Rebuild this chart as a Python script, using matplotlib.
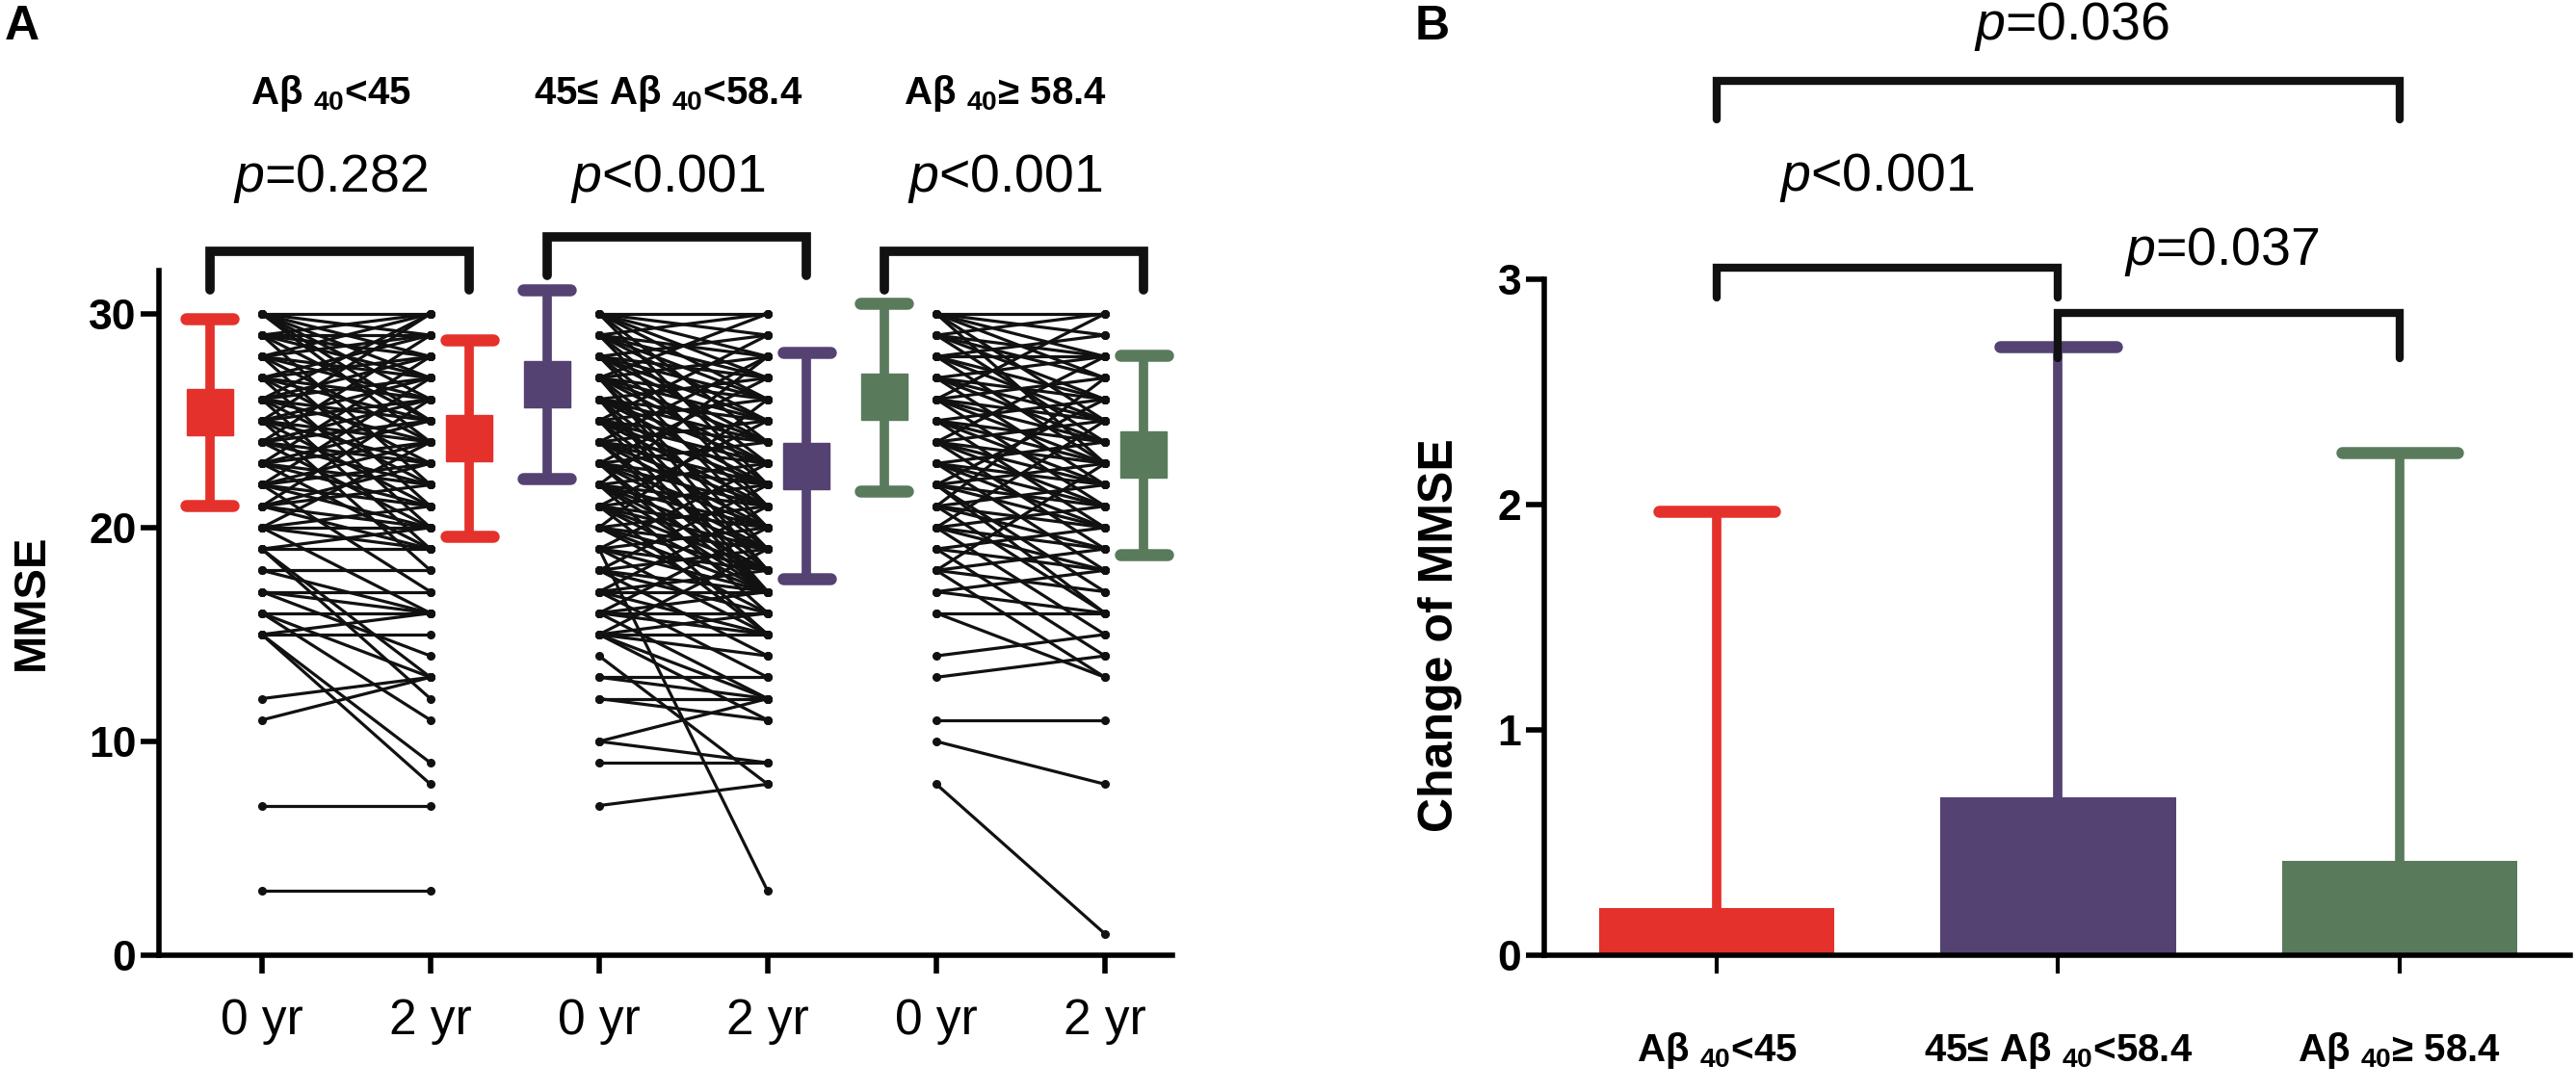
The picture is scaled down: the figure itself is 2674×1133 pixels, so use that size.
import matplotlib
matplotlib.use('Agg')
import matplotlib.pyplot as plt

plt.rcParams['font.family'] = ['Liberation Sans', 'DejaVu Sans']
plt.rcParams['mathtext.fontset'] = 'custom'
plt.rcParams['mathtext.rm'] = 'Liberation Sans'
plt.rcParams['mathtext.it'] = 'Liberation Sans:italic'
plt.rcParams['mathtext.bf'] = 'Liberation Sans:bold'

# group names
group_labels = ['A\u03b2 $_{\\mathbf{40}}$<45',
                '45\u2264 A\u03b2 $_{\\mathbf{40}}$<58.4',
                'A\u03b2 $_{\\mathbf{40}}$\u2265 58.4']
colors = ['#e4312b', '#544273', '#5a7a5c']
time_labels = ['0 yr', '2 yr', '0 yr', '2 yr', '0 yr', '2 yr']

# individual MMSE, 0 yr -> 2 yr
g1_pre = [30, 30, 30, 30, 30, 30, 30, 29, 29, 29, 29, 29, 29, 28, 28, 28, 28, 28, 28,
          27, 27, 27, 27, 27, 27, 26, 26, 26, 26, 26, 26, 25, 25, 25, 25, 25, 25,
          24, 24, 24, 24, 24, 23, 23, 23, 23, 23, 22, 22, 22, 22, 22, 21, 21, 21, 21,
          20, 20, 20, 20, 19, 19, 19, 19, 18, 18, 17, 17, 17, 16, 16, 16,
          15, 15, 15, 15, 12, 11, 7, 3,
          26, 25, 24, 23, 22, 21, 20]
g1_post = [30, 29, 27, 28, 26, 25, 24, 30, 28, 27, 29, 25, 22, 30, 29, 27, 26, 24, 21,
           29, 28, 26, 25, 23, 20, 28, 27, 25, 24, 22, 19, 27, 26, 24, 23, 21, 18,
           26, 25, 23, 22, 20, 25, 24, 22, 21, 19, 24, 23, 21, 20, 17, 23, 22, 20, 19,
           21, 20, 19, 16, 20, 19, 13, 12, 18, 16, 17, 16, 14, 16, 13, 11,
           15, 16, 9, 8, 13, 13, 7, 3,
           30, 30, 29, 28, 27, 26, 24]

g2_pre = [30, 30, 30, 30, 30, 30, 30, 29, 29, 29, 29, 29, 29, 29,
          28, 28, 28, 28, 28, 28, 28, 27, 27, 27, 27, 27, 27, 27, 27,
          26, 26, 26, 26, 26, 26, 26, 26, 25, 25, 25, 25, 25, 25, 25,
          24, 24, 24, 24, 24, 24, 24, 23, 23, 23, 23, 23, 23, 23,
          22, 22, 22, 22, 22, 22, 22, 21, 21, 21, 21, 21, 21,
          20, 20, 20, 20, 20, 19, 19, 19, 19, 19, 18, 18, 18, 18,
          17, 17, 17, 17, 16, 16, 16, 16, 15, 15, 15, 15, 15,
          14, 13, 13, 12, 12, 10, 10, 9, 7,
          27, 25, 24, 23, 22, 21, 20, 19, 18, 17, 16, 15]
g2_post = [30, 29, 28, 27, 26, 24, 22, 30, 28, 27, 26, 25, 23, 21,
           29, 27, 26, 25, 24, 22, 20, 28, 26, 25, 24, 23, 21, 19, 18,
           27, 25, 24, 23, 22, 20, 18, 17, 26, 24, 23, 22, 21, 19, 17,
           25, 23, 22, 21, 20, 18, 17, 24, 22, 21, 20, 19, 17, 16,
           23, 21, 20, 19, 18, 17, 15, 22, 20, 19, 18, 17, 15,
           21, 19, 18, 17, 16, 20, 18, 17, 15, 3, 19, 17, 16, 14,
           18, 17, 15, 13, 17, 16, 15, 12, 16, 15, 14, 12, 11,
           8, 13, 12, 12, 11, 12, 9, 9, 8,
           30, 29, 28, 27, 28, 25, 26, 23, 22, 21, 20, 19]

g3_pre = [30, 30, 30, 30, 30, 30, 29, 29, 29, 29, 29, 28, 28, 28, 28, 28,
          27, 27, 27, 27, 27, 26, 26, 26, 26, 26, 25, 25, 25, 25, 25,
          24, 24, 24, 24, 24, 23, 23, 23, 23, 23, 22, 22, 22, 22, 22,
          21, 21, 21, 21, 20, 20, 20, 20, 19, 19, 19, 18, 18, 18,
          17, 17, 16, 16, 14, 13, 11, 10, 8,
          26, 24, 22, 21, 20, 18]
g3_post = [30, 29, 28, 27, 25, 23, 30, 28, 27, 26, 24, 29, 28, 26, 25, 23,
           28, 26, 25, 24, 22, 27, 25, 24, 23, 21, 26, 24, 23, 22, 20,
           25, 23, 22, 21, 19, 24, 22, 21, 20, 18, 23, 21, 20, 17, 16,
           22, 20, 19, 16, 21, 19, 18, 15, 20, 18, 14, 19, 17, 13,
           18, 16, 16, 13, 15, 14, 11, 8, 1,
           30, 28, 26, 27, 25, 23]

# mean and SD shown next to each column
mean_0yr = [25.4, 26.7, 26.1]
sd_0yr = [4.35, 4.4, 4.4]
mean_2yr = [24.2, 22.9, 23.4]
sd_2yr = [4.6, 5.3, 4.65]
p_paired = ['$\\mathit{p}$=0.282', '$\\mathit{p}$<0.001', '$\\mathit{p}$<0.001']

# change of MMSE (mean + SD)
change_mean = [0.21, 0.70, 0.42]
change_sd = [1.76, 2.00, 1.81]
p_between = [(0, 1, '$\\mathit{p}$<0.001'), (1, 2, '$\\mathit{p}$=0.037'), (0, 2, '$\\mathit{p}$=0.036')]

W, H = 2674, 1133
fig = plt.figure(figsize=(W / 100, H / 100), dpi=100, facecolor='white')

# ---------------- panel A ----------------
axA = fig.add_axes([165 / W, 141 / H, 1052 / W, 977 / H])
axA.set_xlim(-0.61, 5.4)
axA.set_ylim(0, 44)

pres = [g1_pre, g2_pre, g3_pre]
posts = [g1_post, g2_post, g3_post]
for i in range(3):
    x0 = 2 * i
    for a, b in zip(pres[i], posts[i]):
        axA.plot([x0, x0 + 1], [a, b], color='#111111', lw=2.3, marker='o', ms=5.5, zorder=2)

off0, off2, capw = -0.31, 0.23, 0.14
for i in range(3):
    c = colors[i]
    for x, m, s in [(2 * i + off0, mean_0yr[i], sd_0yr[i]), (2 * i + 1 + off2, mean_2yr[i], sd_2yr[i])]:
        axA.plot([x, x], [m - s, m + s], color=c, lw=7, zorder=3)
        for yc in (m - s, m + s):
            axA.plot([x - capw, x + capw], [yc, yc], color=c, lw=9, solid_capstyle='round', zorder=3, clip_on=False)
        axA.plot([x], [m], marker='s', ms=34, color=c, zorder=4, clip_on=False)

br_top = [32.9, 33.6, 32.9]
br_leg = [31.1, 31.8, 31.1]
for i in range(3):
    xl, xr = 2 * i + off0, 2 * i + 1 + off2
    axA.plot([xl, xl, xr, xr], [br_leg[i], br_top[i], br_top[i], br_leg[i]], color='#111111', lw=7,
             solid_capstyle='round', solid_joinstyle='miter', clip_on=False)
    xm = (xl + xr) / 2 - 0.05
    axA.text(xm, 36.3, p_paired[i], ha='center', va='center', fontsize=40)
    axA.text(xm, 40.3, group_labels[i], ha='center', va='center', fontsize=29, fontweight='bold')

axA.spines['top'].set_visible(False)
axA.spines['right'].set_visible(False)
axA.spines['left'].set_bounds(0, 32)
for sp in ('left', 'bottom'):
    axA.spines[sp].set_linewidth(4)
axA.set_yticks([0, 10, 20, 30])
axA.set_xticks(range(6))
axA.set_xticklabels(time_labels)
axA.tick_params(axis='y', length=14, width=4, labelsize=32, pad=3)
axA.tick_params(axis='x', length=14, width=4, labelsize=37, pad=18)
for t in axA.get_yticklabels():
    t.set_fontweight('bold')

fig.text(5 / W, 1 - 5 / H, 'A', fontsize=36, fontweight='bold', ha='left', va='top')
fig.text(33 / W, 1 - 625 / H, 'MMSE', fontsize=34, fontweight='bold', rotation=90, ha='center', va='center')

# ---------------- panel B ----------------
axB = fig.add_axes([1603 / W, 141 / H, 1065 / W, 983 / H])
axB.set_xlim(-0.505, 2.5)
axB.set_ylim(0, 4.2)
xb = [0, 1, 2]
for i in range(3):
    c = colors[i]
    top = change_mean[i] + change_sd[i]
    axB.plot([xb[i], xb[i]], [change_mean[i], top], color=c, lw=7, zorder=1)
    axB.plot([xb[i] - 0.17, xb[i] + 0.17], [top, top], color=c, lw=9, solid_capstyle='round', zorder=1)
axB.bar(xb, change_mean, width=0.69, color=colors, zorder=2)

b_top = [3.05, 2.85, 3.88]
b_leg = [2.92, 2.65, 3.71]
p_pos = [(0.47, 3.45), (1.48, 3.12), (1.04, 4.12)]
for k, (a, b, txt) in enumerate(p_between):
    axB.plot([a, a, b, b], [b_leg[k], b_top[k], b_top[k], b_leg[k]], color='#111111', lw=6,
             solid_capstyle='round', solid_joinstyle='miter', zorder=5, clip_on=False)
    axB.text(p_pos[k][0], p_pos[k][1], txt, ha='center', va='center', fontsize=40)

axB.spines['top'].set_visible(False)
axB.spines['right'].set_visible(False)
axB.spines['left'].set_bounds(0, 3)
for sp in ('left', 'bottom'):
    axB.spines[sp].set_linewidth(4)
axB.set_yticks([0, 1, 2, 3])
axB.set_xticks(xb)
axB.set_xticklabels(group_labels)
axB.tick_params(axis='y', length=14, width=4, labelsize=32, pad=3)
axB.tick_params(axis='x', length=14, width=3, labelsize=29, pad=42)
for t in axB.get_yticklabels() + axB.get_xticklabels():
    t.set_fontweight('bold')

fig.text(1469 / W, 1 - 5 / H, 'B', fontsize=36, fontweight='bold', ha='left', va='top')
fig.text(1495 / W, 1 - 660 / H, 'Change of MMSE', fontsize=36, fontweight='bold', rotation=90,
         ha='center', va='center')

fig.savefig('out.png', dpi=100, facecolor='white')
